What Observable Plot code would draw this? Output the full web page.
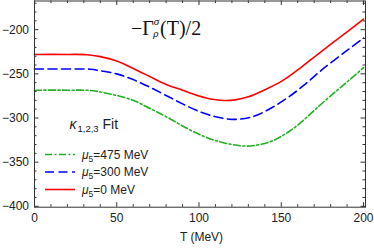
<!DOCTYPE html>
<html><head><meta charset="utf-8">
<script src="https://cdn.jsdelivr.net/npm/d3@7"></script>
<script src="https://cdn.jsdelivr.net/npm/@observablehq/plot@0.6"></script>
<style>html,body{margin:0;padding:0;background:#fff;} svg{display:block}</style>
</head><body><div id="chart"></div>
<script>
// ---- data ----
const seriesNames = ["μ5=475 MeV", "μ5=300 MeV", "μ5=0 MeV"];

const T475 = [0, 20, 34, 40, 50, 60, 70, 80, 90, 100, 110, 120, 129, 137, 145, 155, 165, 175, 185, 192, 200];
const G475 = [-268.5, -268.5, -268.8, -270.5, -274.5, -280, -289, -298.5, -309, -318.5, -325.5, -330, -331.8, -330, -325.5, -315, -300, -283, -267, -256, -243];

const T300 = [0, 20, 34, 40, 50, 60, 70, 80, 90, 100, 110, 120, 128, 135, 145, 155, 165, 175, 190, 200];
const G300 = [-244.5, -244.5, -244.8, -246.5, -250, -256.5, -265, -274.5, -284, -292.5, -298.5, -301.5, -300.5, -297, -287.5, -275.5, -261, -245, -223.5, -209.5];

const T0 = [0, 20, 32, 40, 50, 60, 70, 80, 90, 100, 108, 115, 122, 130, 140, 150, 160, 170, 180, 190, 200];
const G0 = [-228, -228, -228.3, -230.5, -235.5, -244, -253, -262, -268.5, -275, -278.8, -280.2, -279.5, -276, -268, -258.5, -245.5, -231, -216.5, -202.5, -188];

const xTicks = [0, 50, 100, 150, 200];
const yTicks = [-400, -350, -300, -250, -200];
const titleText = "−Γσρ(T)/2";
const fitText = "κ1,2,3 Fit";
const xLabel = "T (MeV)";

// ---- build table ----
const rows = [];
[[T475, G475], [T300, G300], [T0, G0]].forEach(([ts, gs], i) => {
  ts.forEach((t, j) => rows.push({series: seriesNames[i], T: t, G: gs[j]}));
});

// ---- layout ----
const W = 374, H = 249, mL = 34, mR = 9, mT = 0.5, mB = 42.3;
const xDom = [0, 201.2], yDom = [-401, -167.5];
const pw = W - mL - mR, ph = H - mT - mB;
const xv = px => xDom[0] + (px - mL) / pw * (xDom[1] - xDom[0]);
const yv = py => yDom[1] - (py - mT) / ph * (yDom[1] - yDom[0]);
const minorX = d3.range(0, 201, 10).filter(v => v % 50 !== 0);
const minorY = d3.range(-400, -167, 10).filter(v => v % 50 !== 0);

const colors = ["#22b022", "#0000ff", "#ff0000"];
const dashes = ["7,2.5,2,2.5", "9,4.5", null];
const legendY = [154, 171.5, 189];
const frameColor = "#333";

const marks = [];
seriesNames.forEach((name, i) => {
  marks.push(Plot.line(rows.filter(r => r.series === name), {
    x: "T", y: "G", stroke: "series", strokeWidth: 1.6,
    strokeDasharray: dashes[i], curve: "catmull-rom"
  }));
  marks.push(Plot.ruleY([name], {
    y: () => yv(legendY[i]), x1: xv(45), x2: xv(75), stroke: d => d,
    strokeWidth: 1.6, strokeDasharray: dashes[i]
  }));
  marks.push(Plot.text([name], {
    x: xv(81.5), y: yv(legendY[i] + 4), text: d => d, textAnchor: "start",
    lineAnchor: "bottom", fontSize: 12, fill: "#222"
  }));
});

const chart = Plot.plot({
  width: W, height: H,
  marginLeft: mL, marginRight: mR, marginTop: mT, marginBottom: mB,
  style: {fontFamily: "'Liberation Sans', Arial, sans-serif", fontSize: "12px", color: "#222", background: "#fff"},
  x: {domain: xDom},
  y: {domain: yDom},
  color: {domain: seriesNames, range: colors},
  marks: [
    ...marks,
    // frame & inward ticks
    Plot.frame({stroke: frameColor, strokeWidth: 1}),
    Plot.ruleX(xTicks, {x: d => d, insetTop: ph - 4.5, stroke: frameColor}),
    Plot.ruleX(xTicks, {x: d => d, insetBottom: ph - 4.5, stroke: frameColor}),
    Plot.ruleX(minorX, {x: d => d, insetTop: ph - 2.5, stroke: frameColor}),
    Plot.ruleX(minorX, {x: d => d, insetBottom: ph - 2.5, stroke: frameColor}),
    Plot.ruleY(yTicks, {y: d => d, insetRight: pw - 4.5, stroke: frameColor}),
    Plot.ruleY(yTicks, {y: d => d, insetLeft: pw - 4.5, stroke: frameColor}),
    Plot.ruleY(minorY, {y: d => d, insetRight: pw - 2.5, stroke: frameColor}),
    Plot.ruleY(minorY, {y: d => d, insetLeft: pw - 2.5, stroke: frameColor}),
    // axes
    Plot.axisX({ticks: xTicks, tickSize: 0, tickPadding: 6, fontSize: 12, label: null}),
    Plot.axisY({ticks: yTicks, tickSize: 0, tickPadding: 5.5, fontSize: 12, label: null}),
    Plot.text([xLabel], {frameAnchor: "bottom", dx: 1.5, dy: 33.3, text: d => d, lineAnchor: "bottom", fontSize: 12, fill: "#222"}),
    // title and fit annotation
    Plot.text([titleText], {x: xv(130.5), y: yv(34), text: d => d, textAnchor: "start", lineAnchor: "bottom",
      fontSize: 20, fontFamily: "'Liberation Serif', 'Times New Roman', serif", fill: "#111"}),
    Plot.text([fitText], {x: xv(69), y: yv(128), text: d => d, textAnchor: "start", lineAnchor: "bottom",
      fontSize: 14, fill: "#222"})
  ]
});

// ---- rich text (sub/superscripts) ----
const rich = {};
rich[titleText] = [
  {t: "−Γ"},
  {t: "σ", size: 11, italic: true, dy: -10},
  {t: "ρ", size: 11, italic: true, dx: -6, dy: 12.5},
  {t: "(T)/2", dx: 1.5, dy: -2.5}
];
rich[fitText] = [
  {t: "κ", italic: true},
  {t: "1,2,3", size: 9.5, dx: 1, dy: 3.5},
  {t: " Fit", dy: -3.5}
];
seriesNames.forEach(n => {
  const m = n.match(/^μ5(.*)$/);
  rich[n] = [
    {t: "μ", italic: true},
    {t: "5", size: 8.5, dy: 3},
    {t: m[1], dy: -3}
  ];
});
chart.querySelectorAll("text").forEach(el => {
  const parts = rich[el.textContent];
  if (!parts) return;
  el.textContent = "";
  parts.forEach(p => {
    const ts = document.createElementNS("http://www.w3.org/2000/svg", "tspan");
    ts.textContent = p.t;
    if (p.size) ts.setAttribute("font-size", p.size);
    if (p.italic) ts.setAttribute("font-style", "italic");
    if (p.dx) ts.setAttribute("dx", p.dx);
    if (p.dy) ts.setAttribute("dy", p.dy);
    el.appendChild(ts);
  });
});

document.getElementById("chart").appendChild(chart);
</script>
</body></html>
